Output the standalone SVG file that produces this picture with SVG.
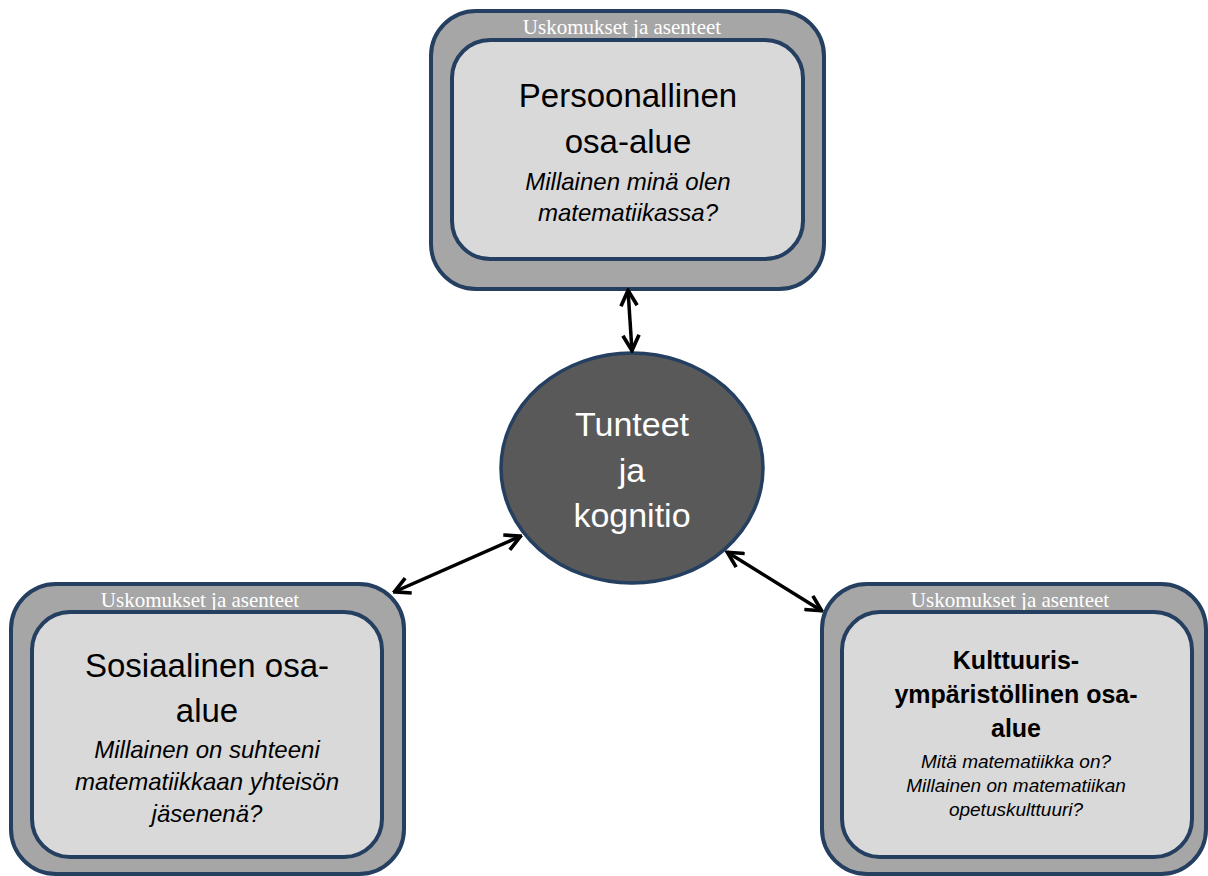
<svg xmlns="http://www.w3.org/2000/svg" width="1208" height="876" viewBox="0 0 1208 876">
<style>
.outer{fill:#a6a6a6;stroke:#243f60;stroke-width:4}
.inner{fill:#d9d9d9;stroke:#243f60;stroke-width:4}
.hdr{font-family:"Liberation Serif",serif;font-size:21px;fill:#ffffff;text-anchor:middle}
.big{font-family:"Liberation Sans",sans-serif;font-size:33px;fill:#000;text-anchor:middle}
.bold{font-family:"Liberation Sans",sans-serif;font-size:25px;font-weight:bold;fill:#000;text-anchor:middle}
.ital{font-family:"Liberation Sans",sans-serif;font-size:24px;font-style:italic;fill:#000;text-anchor:middle}
.itals{font-family:"Liberation Sans",sans-serif;font-size:19px;font-style:italic;fill:#000;text-anchor:middle}
.ctr{font-family:"Liberation Sans",sans-serif;font-size:34px;fill:#ffffff;text-anchor:middle}
.conn{stroke:#000;stroke-width:3.5;fill:none;marker-start:url(#ah);marker-end:url(#ah)}
</style>
<defs>
<marker id="ah" viewBox="0 0 10 10" refX="9.2" refY="5" markerWidth="5.5" markerHeight="5.5" orient="auto-start-reverse" markerUnits="strokeWidth">
<path d="M1,0.8 L9,5 L1,9.2" fill="none" stroke="#000" stroke-width="1.9" stroke-linejoin="miter"/>
</marker>
</defs>
<rect width="1208" height="876" fill="#ffffff"/>
<g id="persoonallinen">
<rect class="outer" x="431" y="11" width="393" height="278" rx="45"/>
<text class="hdr" x="622" y="34">Uskomukset ja asenteet</text>
<rect class="inner" x="452" y="40" width="351" height="219" rx="38"/>
<text class="big" x="628" y="107">Persoonallinen</text>
<text class="big" x="628" y="153">osa-alue</text>
<text class="ital" x="628" y="190">Millainen minä olen</text>
<text class="ital" x="628" y="221">matematiikassa?</text>
</g>
<g id="sosiaalinen">
<rect class="outer" x="11" y="584" width="393" height="290" rx="45"/>
<text class="hdr" x="200" y="607">Uskomukset ja asenteet</text>
<rect class="inner" x="32" y="612" width="350" height="245" rx="38"/>
<text class="big" x="207" y="677">Sosiaalinen osa-</text>
<text class="big" x="207" y="722">alue</text>
<text class="ital" x="207" y="758">Millainen on suhteeni</text>
<text class="ital" x="207" y="790">matematiikkaan yhteisön</text>
<text class="ital" x="207" y="822">jäsenenä?</text>
</g>
<g id="kulttuuris">
<rect class="outer" x="822" y="584" width="384" height="290" rx="45"/>
<text class="hdr" x="1010" y="607">Uskomukset ja asenteet</text>
<rect class="inner" x="842" y="612" width="350" height="245" rx="38"/>
<text class="bold" x="1016" y="669">Kulttuuris-</text>
<text class="bold" x="1016" y="703">ympäristöllinen osa-</text>
<text class="bold" x="1016" y="737">alue</text>
<text class="itals" x="1016" y="768">Mitä matematiikka on?</text>
<text class="itals" x="1016" y="792">Millainen on matematiikan</text>
<text class="itals" x="1016" y="816">opetuskulttuuri?</text>
</g>
<g id="tunteet">
<ellipse cx="632" cy="468" rx="131" ry="115" fill="#595959" stroke="#243f60" stroke-width="3.5"/>
<text class="ctr" x="632" y="436">Tunteet</text>
<text class="ctr" x="632" y="482">ja</text>
<text class="ctr" x="632" y="527">kognitio</text>
</g>
<g id="connectors">
<line class="conn" x1="628" y1="290" x2="632" y2="351"/>
<line class="conn" x1="394" y1="592" x2="521" y2="536"/>
<line class="conn" x1="727" y1="552" x2="822" y2="611"/>
</g>
</svg>
